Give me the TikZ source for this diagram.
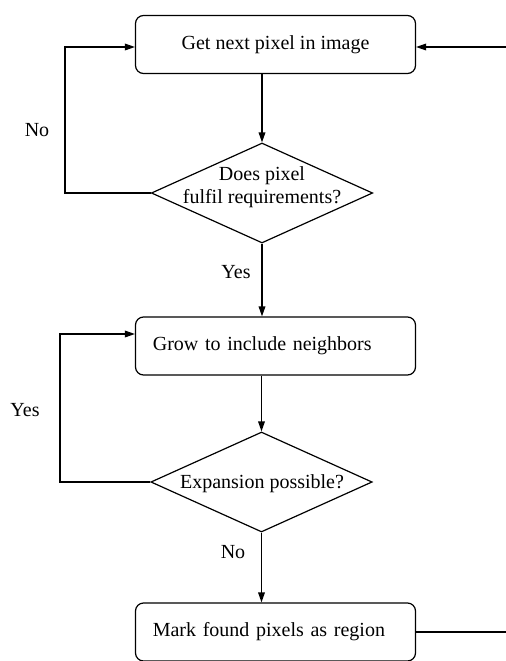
\documentclass[tikz,border=0pt]{standalone}
\usepackage{fontspec}
\setmainfont{Liberation Serif}
\usetikzlibrary{shapes.geometric,arrows.meta}
\begin{document}
\begin{tikzpicture}[x=0.75pt,y=-0.75pt,
  every node/.style={font=\fontsize{15}{17.5}\selectfont},
  procbox/.style={draw,rounded corners=6pt,minimum width=210pt,minimum height=43.5pt,inner sep=0pt,line width=0.9pt},
  leftbox/.style={procbox,align=left,text width=184pt,inner xsep=13pt},
  decision/.style={draw,diamond,aspect=2.2,inner sep=0pt,minimum width=166pt,minimum height=75pt,line width=0.9pt},
  dtext/.style={inner sep=0pt,align=center},
  flow/.style={line width=0.9pt,-{Triangle[length=7.5pt,width=5pt]}},
  lbl/.style={inner sep=0pt}]
\useasboundingbox (0,0) rectangle (506,661);
\node[procbox] (get) at (275.5,44.5) {Get next pixel in image};
\node[decision] (req) at (262,193) {};
\node[dtext] (reqt) at (262,187) {Does pixel\\fulfil requirements?};
\node[leftbox] (grow) at (275.5,346) {Grow to include neighbors};
\node[decision] (exp) at (261.5,482) {};
\node[dtext] (expt) at (262,484) {Expansion possible?};
\node[leftbox] (mark) at (275.5,632) {Mark found pixels as region};
\coordinate (l1) at (65,195);
\coordinate (l1t) at (65,47);
\coordinate (l2) at (60,482);
\coordinate (l2t) at (60,334);
\coordinate (r1) at (506.5,632);
\coordinate (r1t) at (506.5,47);
\draw[flow] (get.south -| req.north) -- (req.north);
\draw[flow] (req.south) -- (req.south |- grow.north);
\draw[flow] (exp.north |- grow.south) -- (exp.north);
\draw[flow] (exp.south) -- (exp.south |- mark.north);
\draw[flow] (req.west) -- (req.west -| l1) -- (l1t) -- (l1t -| get.west);
\draw[flow] (exp.west) -- (exp.west -| l2) -- (l2t) -- (l2t -| grow.west);
\draw[flow] (mark.east) -- (r1) -- (r1t) -- (r1t -| get.east);
\node[lbl] (no1) at (37,130) {No};
\node[lbl] (yes1) at (236,272) {Yes};
\node[lbl] (yes2) at (25,410) {Yes};
\node[lbl] (no2) at (233,552) {No};
\end{tikzpicture}
\end{document}
